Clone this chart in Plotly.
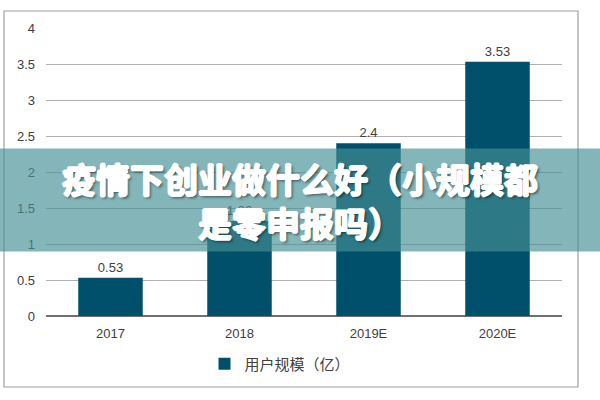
import plotly.graph_objects as go

# data
years = ['2017', '2018', '2019E', '2020E']
users = [0.53, 1.32, 2.4, 3.53]
series_name = '用户规模（亿）'
y_ticks = [0, 0.5, 1, 1.5, 2, 2.5, 3, 3.5, 4]
y_tick_labels = ['0', '0.5', '1', '1.5', '2', '2.5', '3', '3.5', '4']
overlay_title = '疫情下创业做什么好（小规模都<br>是零申报吗）'

# plot area in pixels (600x400 page)
L, R, T, B = 46, 38, 28, 84
PW = 600 - L - R
PH = 400 - T - B


def px_x(x):
    return (x - L) / PW


def px_y(y):
    return (400 - B - y) / PH


def create_plot():
    fig = go.Figure()
    fig.add_trace(go.Bar(
        x=years, y=users, name=series_name,
        marker=dict(color='#01506b', line=dict(width=0)),
        text=[str(v) for v in users], textposition='outside',
        textfont=dict(family='Liberation Sans, Arial', size=13, color='#404040'),
        cliponaxis=False,
    ))

    fig.update_layout(
        width=600, height=400,
        margin=dict(l=L, r=R, t=T, b=B, autoexpand=False),
        paper_bgcolor='white', plot_bgcolor='white',
        bargap=0.5,
        font=dict(family='Liberation Sans, Arial', size=13, color='#404040'),
        showlegend=True,
        legend=dict(
            orientation='h', x=px_x(280), xanchor='center', y=px_y(364), yanchor='middle',
            font=dict(family='Noto Sans CJK SC', size=15, color='#404040'),
            itemwidth=30,
        ),
        uniformtext=dict(minsize=13, mode='show'),
    )
    fig.update_xaxes(
        showgrid=False, showline=False, zeroline=False, automargin=False,
        tickfont=dict(size=13, color='#404040'), ticks='', ticklabelstandoff=8,
    )
    fig.update_yaxes(
        range=[0, 4], tickvals=y_ticks, ticktext=y_tick_labels, automargin=False,
        showgrid=True, gridcolor='#b0b0b0', gridwidth=1,
        zeroline=True, zerolinecolor='#707070', zerolinewidth=1.5,
        showline=False, ticks='', ticklabelstandoff=10,
        tickfont=dict(size=13, color='#404040'),
    )

    # outer frame of the original image
    fig.add_shape(type='rect', xref='paper', yref='paper',
                  x0=px_x(4), x1=px_x(578), y0=px_y(387), y1=px_y(11),
                  line=dict(color='#a0a0a0', width=1.2), layer='below')
    # translucent teal band with the headline
    fig.add_shape(type='rect', xref='paper', yref='paper',
                  x0=px_x(0), x1=px_x(600), y0=px_y(251.5), y1=px_y(148.5),
                  fillcolor='rgba(69,144,149,0.66)', line=dict(width=0), layer='above')
    fig.add_annotation(
        xref='paper', yref='paper', x=px_x(300), y=px_y(200), showarrow=False,
        text='<b>' + overlay_title + '</b>', align='center',
        xanchor='center', yanchor='middle',
        font=dict(family='Noto Sans CJK SC', size=34, color='white', weight=900,
                  shadow='1px 0 0 white, -1px 0 0 white, 0 1px 0 white, 0 -1px 0 white, '
                         '2px 2px 3px rgba(0,0,0,0.55)'),
    )

    # drop the browser's default 8px body margin so the figure sits at the corner
    fig.write_html('out.html', config={'displayModeBar': False},
                   post_script="document.body.style.margin='0';")


if __name__ == '__main__':
    create_plot()
